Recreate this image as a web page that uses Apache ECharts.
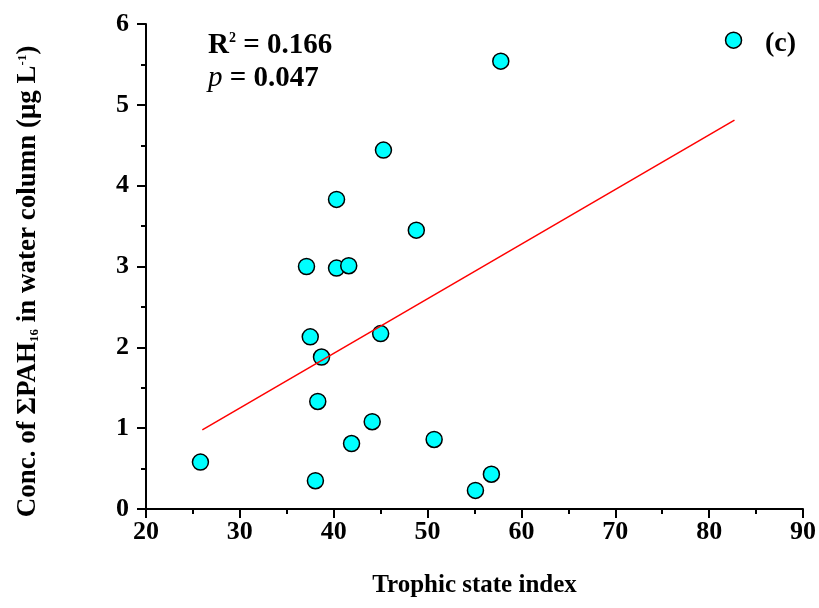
<!DOCTYPE html>
<html>
<head>
<meta charset="utf-8">
<script src="https://cdn.jsdelivr.net/npm/echarts@6/dist/echarts.min.js"></script>
<style>
  html, body { margin: 0; padding: 0; background: #fff; }
  #scatter { width: 819px; height: 608px; }
</style>
</head>
<body>
<div id="scatter"></div>
<script>
// trophic state index vs sum of 16 PAHs
const tsiValues = [25.8, 38.05, 38.3, 38.7, 37.5, 37.1, 40.3, 41.6, 40.3, 41.9,
  44.1, 45.0, 45.3, 48.8, 50.7, 55.1, 56.8, 57.8, 82.6]
const pahValues = [0.58, 0.35, 1.33, 1.88, 2.13, 3.0, 2.98, 3.01, 3.83, 0.81,
  1.08, 2.17, 4.44, 3.45, 0.86, 0.23, 0.43, 5.54, 5.80]

// fitted line ends
const fitX = [26, 82.7]
const fitY = [0.98, 4.81]

const xTicks = [20, 30, 40, 50, 60, 70, 80, 90]
const yTicks = [0, 1, 2, 3, 4, 5, 6]

const serif = 'Liberation Serif'

function scatterChart() {
  const axisCommon = {
    axisLine: { show: true, lineStyle: { color: '#000', width: 2 } },
    axisTick: { show: true, inside: false, length: 9, lineStyle: { color: '#000', width: 2 } },
    minorTick: { show: true, splitNumber: 2, length: 5, lineStyle: { color: '#000', width: 2 } },
    splitLine: { show: false },
    axisLabel: { color: '#000', fontFamily: serif, fontWeight: 'bold', fontSize: 26 },
    nameTextStyle: { color: '#000', fontFamily: serif, fontWeight: 'bold', fontSize: 25 },
  }

  const option = {
    animation: false,
    grid: { left: 146, right: 15, top: 24, bottom: 99 },
    xAxis: Object.assign({}, axisCommon, {
      type: 'value',
      min: xTicks[0],
      max: xTicks[xTicks.length - 1],
      interval: 10,
      name: 'Trophic state index',
      nameLocation: 'middle',
      nameGap: 64,
      axisLabel: Object.assign({}, axisCommon.axisLabel, { margin: 10 }),
    }),
    yAxis: Object.assign({}, axisCommon, {
      type: 'value',
      min: yTicks[0],
      max: yTicks[yTicks.length - 1],
      interval: 1,
      name: '{t|Conc. of ΣPAH}{sub|16}{t| in water column (μg L}{sup|-1}{t|)}',
      nameLocation: 'middle',
      nameRotate: 90,
      nameGap: 102,
      nameTextStyle: Object.assign({}, axisCommon.nameTextStyle, {
        padding: [0, 30, 0, 0],
        rich: {
          t: { fontFamily: serif, fontWeight: 'bold', fontSize: 27, color: '#000', lineHeight: 32, verticalAlign: 'middle' },
          sub: { fontFamily: serif, fontWeight: 'bold', fontSize: 13, color: '#000', lineHeight: 32, verticalAlign: 'bottom', padding: [0, 0, 3, 0] },
          sup: { fontFamily: serif, fontWeight: 'bold', fontSize: 13, color: '#000', lineHeight: 32, verticalAlign: 'top', padding: [4, 0, 0, 0] },
        },
      }),
      axisLabel: Object.assign({}, axisCommon.axisLabel, { margin: 17 }),
    }),
    graphic: [
      {
        type: 'text',
        left: 208,
        top: 28,
        style: {
          text: '{b|R}{sup|2}{b| = 0.166}',
          rich: {
            b: { fontFamily: serif, fontWeight: 'bold', fontSize: 29, fill: '#000', lineHeight: 32, verticalAlign: 'bottom' },
            sup: { fontFamily: serif, fontWeight: 'bold', fontSize: 14, fill: '#000', lineHeight: 32, verticalAlign: 'top', padding: [3, 0, 0, 0] },
          },
        },
      },
      {
        type: 'text',
        left: 208,
        top: 64,
        style: {
          text: '{i|p}{b| = 0.047}',
          rich: {
            i: { fontFamily: serif, fontStyle: 'italic', fontSize: 29, fill: '#000' },
            b: { fontFamily: serif, fontWeight: 'bold', fontSize: 29, fill: '#000' },
          },
        },
      },
      {
        type: 'text',
        left: 765,
        top: 30,
        style: { text: '(c)', fontFamily: serif, fontWeight: 'bold', fontSize: 28, fill: '#000' },
      },
    ],
    series: [
      {
        type: 'scatter',
        data: tsiValues.map((x, i) => [x, pahValues[i]]),
        symbol: 'circle',
        symbolSize: 16,
        itemStyle: { color: '#00ffff', borderColor: '#000', borderWidth: 1.5, opacity: 1 },
        z: 3,
      },
      {
        type: 'line',
        data: fitX.map((x, i) => [x, fitY[i]]),
        showSymbol: false,
        symbol: 'none',
        lineStyle: { color: '#ff0000', width: 1.5 },
        z: 4,
      },
    ],
  }

  var myChart = echarts.init(document.getElementById('scatter'))
  myChart.setOption(option)
}

scatterChart()
</script>
</body>
</html>
